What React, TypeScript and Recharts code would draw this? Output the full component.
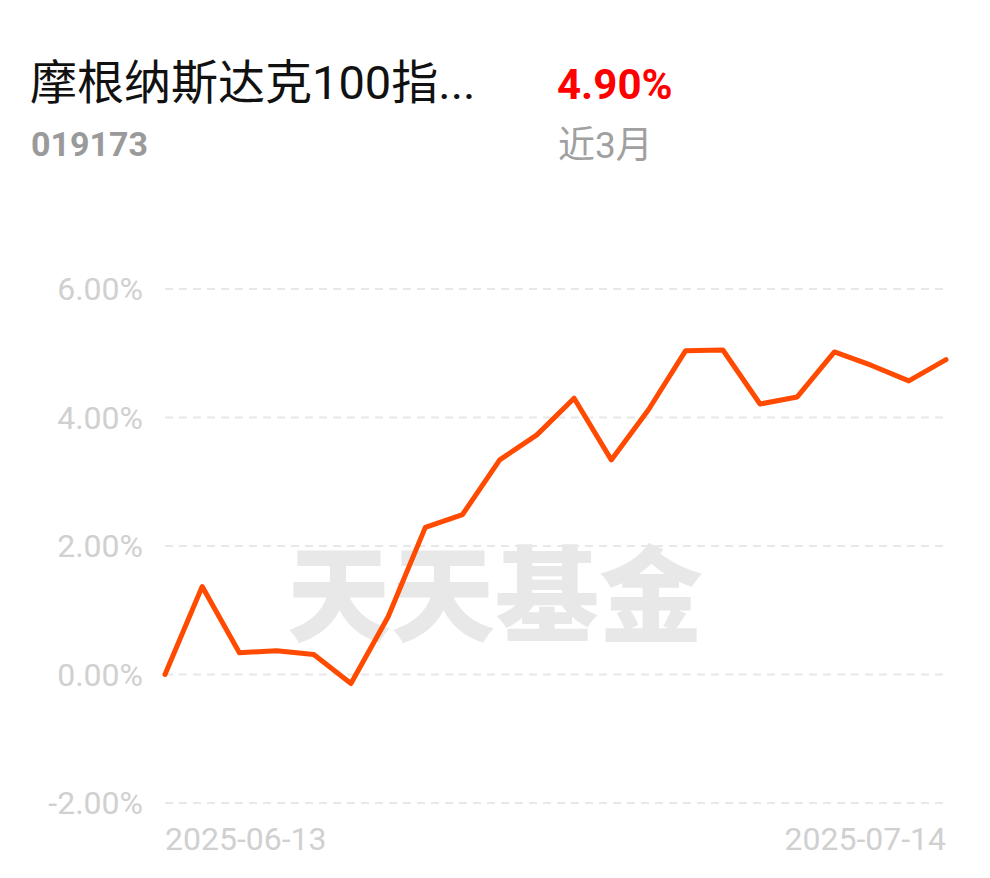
import React from 'react';
import { LineChart, Line, XAxis, YAxis, CartesianGrid } from 'recharts';

const dates = [
  '2025-06-13', '2025-06-16', '2025-06-17', '2025-06-18', '2025-06-19', '2025-06-20',
  '2025-06-23', '2025-06-24', '2025-06-25', '2025-06-26', '2025-06-27', '2025-06-30',
  '2025-07-01', '2025-07-02', '2025-07-03', '2025-07-04', '2025-07-07', '2025-07-08',
  '2025-07-09', '2025-07-10', '2025-07-11', '2025-07-14',
];
const returns = [
  0, 1.37, 0.34, 0.37, 0.31, -0.14, 0.9, 2.29, 2.49, 3.34, 3.73, 4.3,
  3.34, 4.12, 5.04, 5.05, 4.21, 4.32, 5.02, 4.81, 4.57, 4.9,
];
const yTicks = [-2, 0, 2, 4, 6];

const fundName = '摩根纳斯达克100指...';
const fundCode = '019173';
const periodReturn = '4.90%';
const periodLabel = '近3月';

const FONT = "Roboto, 'Noto Sans CJK SC', sans-serif";

const data = dates.map((date, i) => ({ date, value: returns[i] }));

// only first and last date are shown, pinned to the plot edges
const DateTick = (props: any) => {
  const { x, y, payload, index } = props;
  const first = index === 0;
  return (
    <text
      x={x}
      y={y}
      dy={39}
      textAnchor={first ? 'start' : 'end'}
      fill="#d0d0d0"
      fontSize={32}
      fontFamily={FONT}
    >
      {payload.value}
    </text>
  );
};

const App = () => {
  return (
    <div style={{ position: 'absolute', left: 0, top: 0, width: 990, height: 878, background: '#fff', fontFamily: FONT }}>
      <div style={{ position: 'absolute', left: 30, top: 55, fontSize: 47, lineHeight: '56px', color: '#111' }}>
        {fundName}
      </div>
      <div style={{ position: 'absolute', left: 31, top: 124, fontSize: 34, lineHeight: '40px', color: '#9a9a9a', fontWeight: 700 }}>
        {fundCode}
      </div>
      <div style={{ position: 'absolute', left: 557, top: 60, fontSize: 42, lineHeight: '50px', color: '#ff0000', fontWeight: 700 }}>
        {periodReturn}
      </div>
      <div style={{ position: 'absolute', left: 558, top: 124, fontSize: 37, lineHeight: '44px', color: '#a0a0a0' }}>
        {periodLabel}
      </div>

      {/* watermark */}
      <div
        style={{
          position: 'absolute',
          left: 287,
          top: 530,
          width: 420,
          fontSize: 104,
          lineHeight: '118px',
          fontWeight: 900,
          color: '#e8e8e8',
          fontFamily: "'Noto Sans CJK SC', sans-serif",
          whiteSpace: 'nowrap',
        }}
      >
        天天基金
      </div>

      <div style={{ position: 'absolute', left: 0, top: 0 }}>
        <LineChart width={990} height={878} data={data} margin={{ top: 289, right: 44, bottom: 15, left: 0 }}>
          <CartesianGrid vertical={false} stroke="#e8e8e8" strokeWidth={2} strokeDasharray="8 6" />
          <XAxis
            dataKey="date"
            height={60}
            axisLine={false}
            tickLine={false}
            ticks={[dates[0], dates[dates.length - 1]]}
            interval={0}
            tick={<DateTick />}
          />
          <YAxis
            width={165}
            domain={[-2, 6]}
            ticks={yTicks}
            axisLine={false}
            tickLine={false}
            tickMargin={16}
            tickFormatter={(v: number) => `${v.toFixed(2)}%`}
            tick={{ fill: '#d0d0d0', fontSize: 32, fontFamily: FONT }}
          />
          <Line
            type="linear"
            dataKey="value"
            stroke="#ff4a00"
            strokeWidth={5}
            dot={false}
            strokeLinejoin="round"
            strokeLinecap="round"
            isAnimationActive={false}
          />
        </LineChart>
      </div>
    </div>
  );
};

export default App;
